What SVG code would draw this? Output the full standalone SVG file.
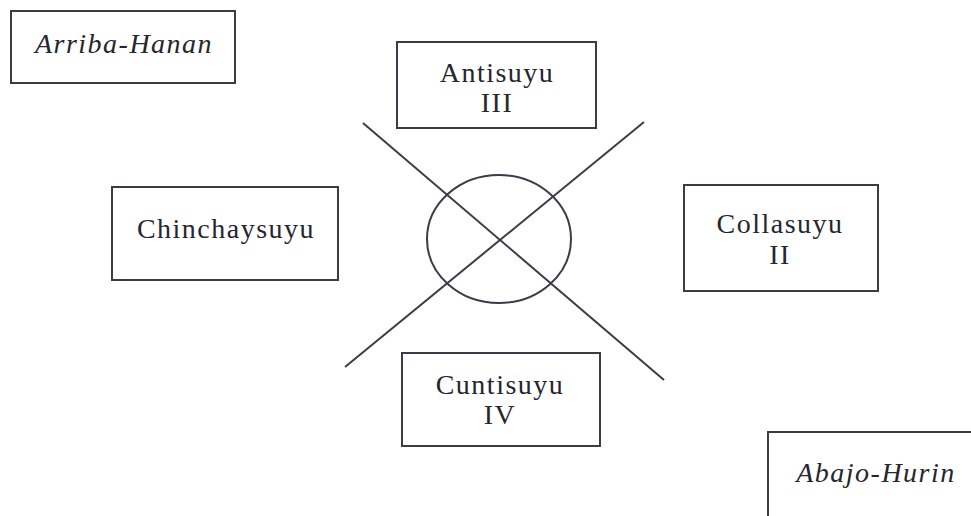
<svg xmlns="http://www.w3.org/2000/svg" width="971" height="516" viewBox="0 0 971 516">
<style>
.box{fill:#fff;stroke:#3b3b4a;stroke-width:2}
.t{font-family:"Liberation Serif","Times New Roman",serif;font-size:28px;letter-spacing:1.5px;fill:#26262f;text-anchor:middle}
.i{font-style:italic}
.ln{stroke:#3b3b4a;stroke-width:2;fill:none}
</style>
<rect width="971" height="516" fill="#fff"/>
<g id="connectors">
<ellipse class="ln" cx="499" cy="239" rx="72" ry="64"/>
<line class="ln" x1="363" y1="123" x2="664" y2="380"/>
<line class="ln" x1="644" y1="122" x2="345" y2="367"/>
</g>
<g id="arriba-hanan">
<rect class="box" x="11" y="11" width="224" height="72"/>
<text class="t i" x="124" y="53">Arriba-Hanan</text>
</g>
<g id="antisuyu">
<rect class="box" x="397" y="42" width="199" height="86"/>
<text class="t" x="497" y="82">Antisuyu</text>
<text class="t" x="497" y="112">III</text>
</g>
<g id="chinchaysuyu">
<rect class="box" x="112" y="187" width="226" height="93"/>
<text class="t" x="226" y="238">Chinchaysuyu</text>
</g>
<g id="collasuyu">
<rect class="box" x="684" y="185" width="194" height="106"/>
<text class="t" x="780" y="233">Collasuyu</text>
<text class="t" x="780" y="264">II</text>
</g>
<g id="cuntisuyu">
<rect class="box" x="402" y="353" width="198" height="93"/>
<text class="t" x="500" y="394">Cuntisuyu</text>
<text class="t" x="500" y="424">IV</text>
</g>
<g id="abajo-hurin">
<rect class="box" x="768" y="432" width="215" height="100"/>
<text class="t i" x="876" y="482">Abajo-Hurin</text>
</g>
</svg>
